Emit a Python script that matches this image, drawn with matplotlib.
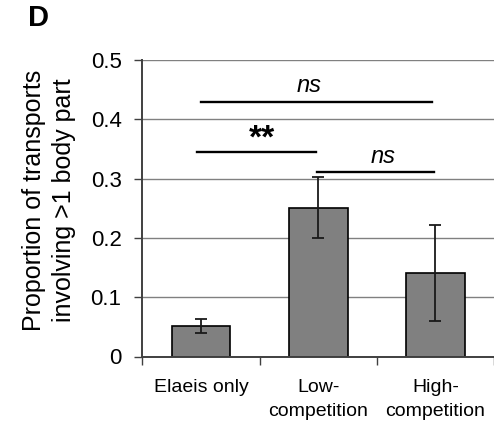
import matplotlib
matplotlib.use("Agg")
import matplotlib.pyplot as plt

plt.rcParams['font.family'] = ['Liberation Sans', 'DejaVu Sans']

# data
groups = ['Elaeis only', 'Low-\ncompetition', 'High-\ncompetition']
proportion = [0.052, 0.25, 0.14]
err_low = [0.013, 0.051, 0.08]
err_high = [0.012, 0.052, 0.081]
yticks = [0, 0.1, 0.2, 0.3, 0.4, 0.5]
ytick_labels = ['0', '0.1', '0.2', '0.3', '0.4', '0.5']

# significance brackets: (x start, x end, y, label, label x, label y)
brackets = [
    (0.0, 1.97, 0.43, 'ns', 0.92, 0.437),
    (-0.03, 0.98, 0.345, '**', 0.52, 0.352),
    (0.99, 1.99, 0.311, 'ns', 1.556, 0.318),
]

fig = plt.figure(figsize=(4.94, 4.28), dpi=100)
ax = fig.add_axes([142.4 / 494, (428 - 356.5) / 428, 1 - 142.4 / 494, (356.5 - 60) / 428])

x = list(range(len(groups)))
ax.set_axisbelow(True)
ax.yaxis.grid(True, color='#808080', linewidth=1.0)
ax.bar(x, proportion, width=0.5, color='#808080', edgecolor='black', linewidth=1.2,
       yerr=[err_low, err_high], capsize=4.3,
       error_kw=dict(ecolor='#1a1a1a', elinewidth=1.3, capthick=1.3), zorder=2)

for x0, x1, y, lab, lx, ly in brackets:
    ax.plot([x0, x1], [y, y], color='black', linewidth=1.7, zorder=3, clip_on=False)
    if lab == 'ns':
        ax.text(lx, ly, lab, ha='center', va='bottom', fontsize=17, style='italic')
    else:
        ax.text(lx, ly - 0.012, lab, ha='center', va='bottom', fontsize=24, fontweight='bold')

ax.set_xlim(-0.5, 2.47)
ax.set_ylim(0, 0.5)
ax.set_yticks(yticks)
ax.set_yticklabels(ytick_labels, fontsize=16)
ax.tick_params(axis='y', direction='out', length=6, width=1.0, color='#404040', pad=9)

ax.set_xticks([-0.5, 0.5, 1.5, 2.5])
ax.set_xticklabels([])
ax.set_xticks(x, minor=True)
ax.set_xticklabels(groups, minor=True, fontsize=14, va='top', linespacing=1.55)
ax.tick_params(axis='x', which='major', direction='out', length=6, width=1.0, color='#404040')
ax.tick_params(axis='x', which='minor', length=0, pad=16)

for side in ['top', 'right']:
    ax.spines[side].set_visible(False)
for side in ['left', 'bottom']:
    ax.spines[side].set_color('#404040')
    ax.spines[side].set_linewidth(1.4)

fig.text(49 / 494, 1 - 200 / 428, 'Proportion of transports\ninvolving >1 body part',
         rotation=90, ha='center', va='center', fontsize=18, linespacing=1.35)
fig.text(38 / 494, 1 - 18 / 428, 'D', ha='center', va='center', fontsize=21, fontweight='bold')

fig.savefig('out.png', dpi=100)
